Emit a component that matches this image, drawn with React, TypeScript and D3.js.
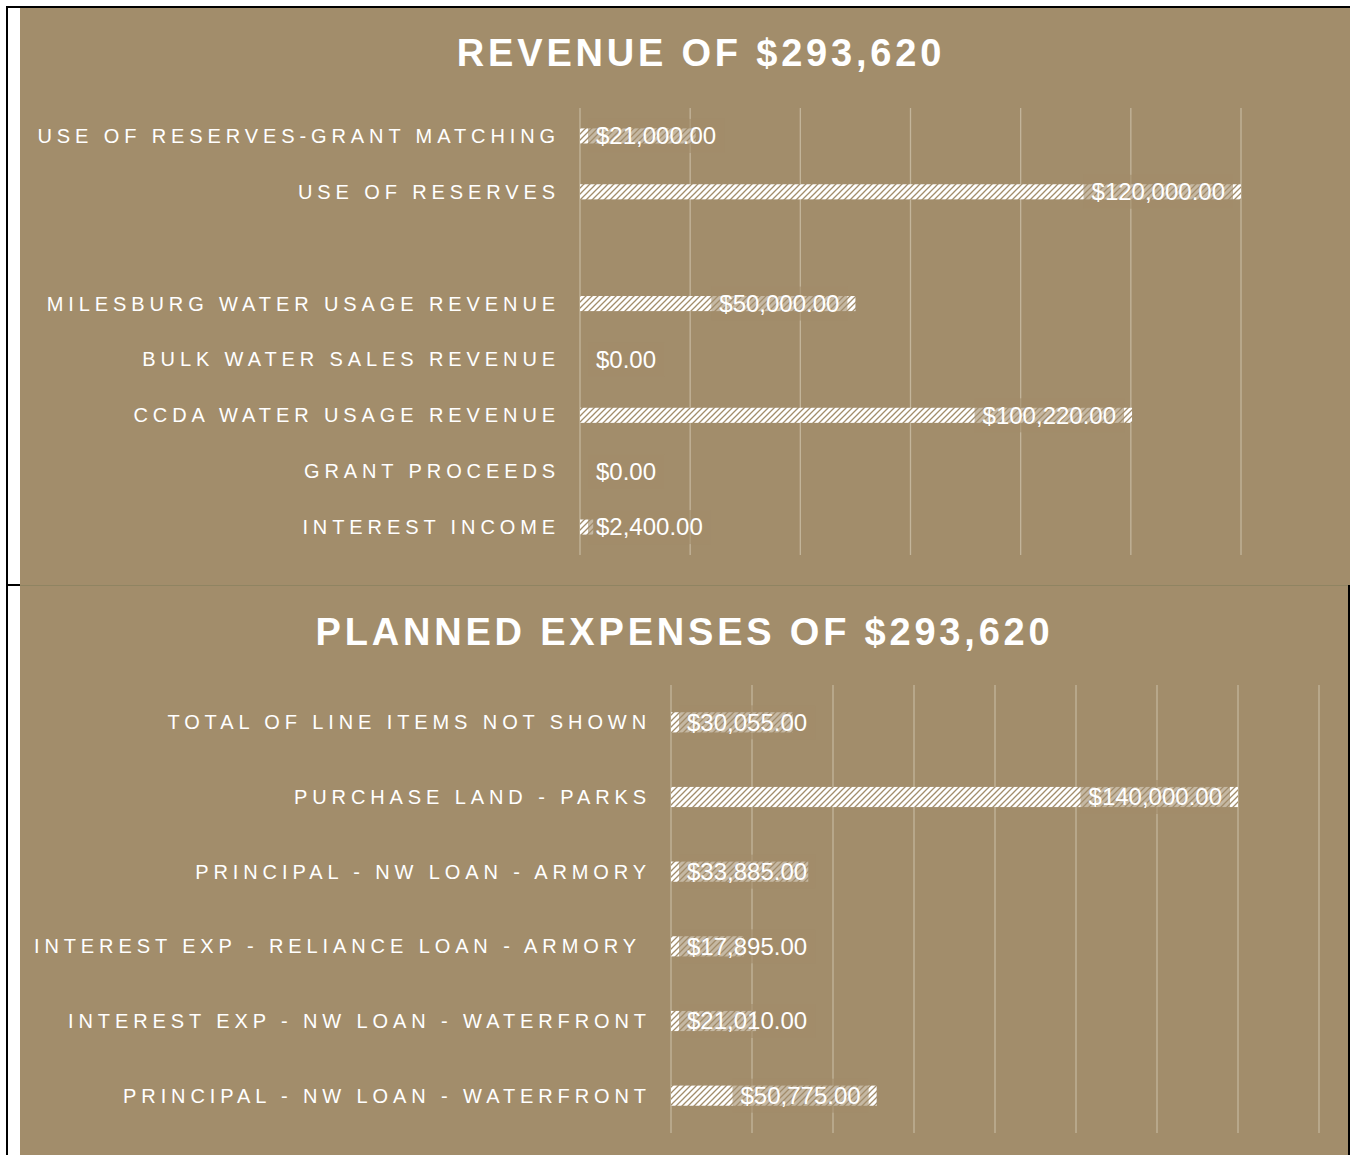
import React from 'react';
import * as d3 from 'd3';

// revenue panel
const revenueCategories = [
  'USE OF RESERVES-GRANT MATCHING',
  'USE OF RESERVES',
  '',
  'MILESBURG WATER USAGE REVENUE',
  'BULK WATER SALES REVENUE',
  'CCDA WATER USAGE REVENUE',
  'GRANT PROCEEDS',
  'INTEREST INCOME'
];
const revenueValues = [21000, 120000, null, 50000, 0, 100220, 0, 2400];
const revenueTicks = [0, 20000, 40000, 60000, 80000, 100000, 120000];

// expenses panel
const expenseCategories = [
  'TOTAL OF LINE ITEMS NOT SHOWN',
  'PURCHASE LAND - PARKS',
  'PRINCIPAL - NW LOAN - ARMORY',
  'INTEREST EXP - RELIANCE LOAN - ARMORY ',
  'INTEREST EXP - NW LOAN - WATERFRONT',
  'PRINCIPAL - NW LOAN - WATERFRONT'
];
const expenseValues = [30055, 140000, 33885, 17895, 21010, 50775];
const expenseTicks = [0, 20000, 40000, 60000, 80000, 100000, 120000, 140000, 160000];

const BG = '#a28d6b';
const GRID = '#c3b59b';
const FONT = '"Liberation Sans", Arial, sans-serif';
const money = d3.format('$,.2f');

let ctx = null;
function textWidth(s, font) {
  if (!ctx) ctx = document.createElement('canvas').getContext('2d');
  ctx.font = font;
  return ctx.measureText(s).width;
}

function BarPanel(props) {
  const { title, titleX, titleY, categories, values, ticks, x0, x1, y0, y1, patternId } = props;

  const x = d3.scaleLinear().domain([0, ticks[ticks.length - 1]]).range([x0, x1]);
  const y = d3.scaleBand()
    .domain(d3.range(categories.length))
    .range([y0, y1])
    .paddingInner(0.73)
    .paddingOuter(0.365);

  const valueFont = `24px ${FONT}`;

  return (
    <g>
      <text x={titleX} y={titleY} textAnchor="middle" fill="#fff"
            fontFamily={FONT} fontWeight="bold" fontSize={38} letterSpacing={3.8}>
        {title}
      </text>

      {ticks.map((t) => (
        <line key={t} x1={x(t)} x2={x(t)} y1={y0} y2={y1} stroke={GRID} strokeWidth={1.3} />
      ))}

      {values.map((v, i) => (
        v ? <rect key={i} x={x(0)} y={y(i)} width={x(v) - x(0)} height={y.bandwidth()}
                  fill={`url(#${patternId})`} /> : null
      ))}

      {values.map((v, i) => {
        if (v === null) return null;
        const label = money(v);
        const w = textWidth(label, valueFont);
        const end = x(v);
        let tx = end - 16 - w;
        if (tx < x(0) + 16) tx = x(0) + 16;
        const cy = y(i) + y.bandwidth() / 2;
        return (
          <g key={i}>
            <rect x={tx - 8} y={cy - 17} width={w + 16} height={34} fill={BG} opacity={0.62} />
            <text x={tx} y={cy + 8.4} fill="#fff" fontFamily={FONT} fontSize={24}>{label}</text>
          </g>
        );
      })}

      {categories.map((c, i) => (
        <text key={i} x={x0 - 20} y={y(i) + y.bandwidth() / 2 + 7} textAnchor="end"
              fill="#fff" fontFamily={FONT} fontSize={20} letterSpacing={4.9}
              style={{ whiteSpace: 'pre' }}>
          {c}
        </text>
      ))}
    </g>
  );
}

export default function App() {
  return (
    <svg width={1351} height={1155} style={{ position: 'absolute', left: 0, top: 0, background: '#fff' }}>
      <defs>
        <pattern id="hatch" width={6} height={6} patternUnits="userSpaceOnUse">
          <rect width={6} height={6} fill="#fff" />
          <path d="M-1.5,1.5 L1.5,-1.5 M0,6 L6,0 M4.5,7.5 L7.5,4.5" stroke={BG} strokeWidth={1.3} />
        </pattern>
      </defs>

      {/* frame */}
      <rect x={20} y={8} width={1330} height={577} fill={BG} />
      <rect x={20} y={585} width={1328} height={570} fill={BG} />
      <line x1={20} x2={1348} y1={585.5} y2={585.5} stroke="#8f8462" strokeWidth={1} />
      <line x1={7} x2={7} y1={7} y2={1155} stroke="#000" strokeWidth={2} />
      <line x1={6} x2={1350} y1={7} y2={7} stroke="#000" strokeWidth={2} />
      <line x1={7} x2={20} y1={585} y2={585} stroke="#000" strokeWidth={2} />
      <line x1={1349} x2={1349} y1={585} y2={1155} stroke="#000" strokeWidth={2} />

      <BarPanel title="REVENUE OF $293,620" titleX={701} titleY={66}
                categories={revenueCategories} values={revenueValues} ticks={revenueTicks}
                x0={580} x1={1241} y0={108} y1={555} patternId="hatch" />
      <BarPanel title="PLANNED EXPENSES OF $293,620" titleX={684.5} titleY={645}
                categories={expenseCategories} values={expenseValues} ticks={expenseTicks}
                x0={671} x1={1319} y0={685} y1={1133} patternId="hatch" />
    </svg>
  );
}
